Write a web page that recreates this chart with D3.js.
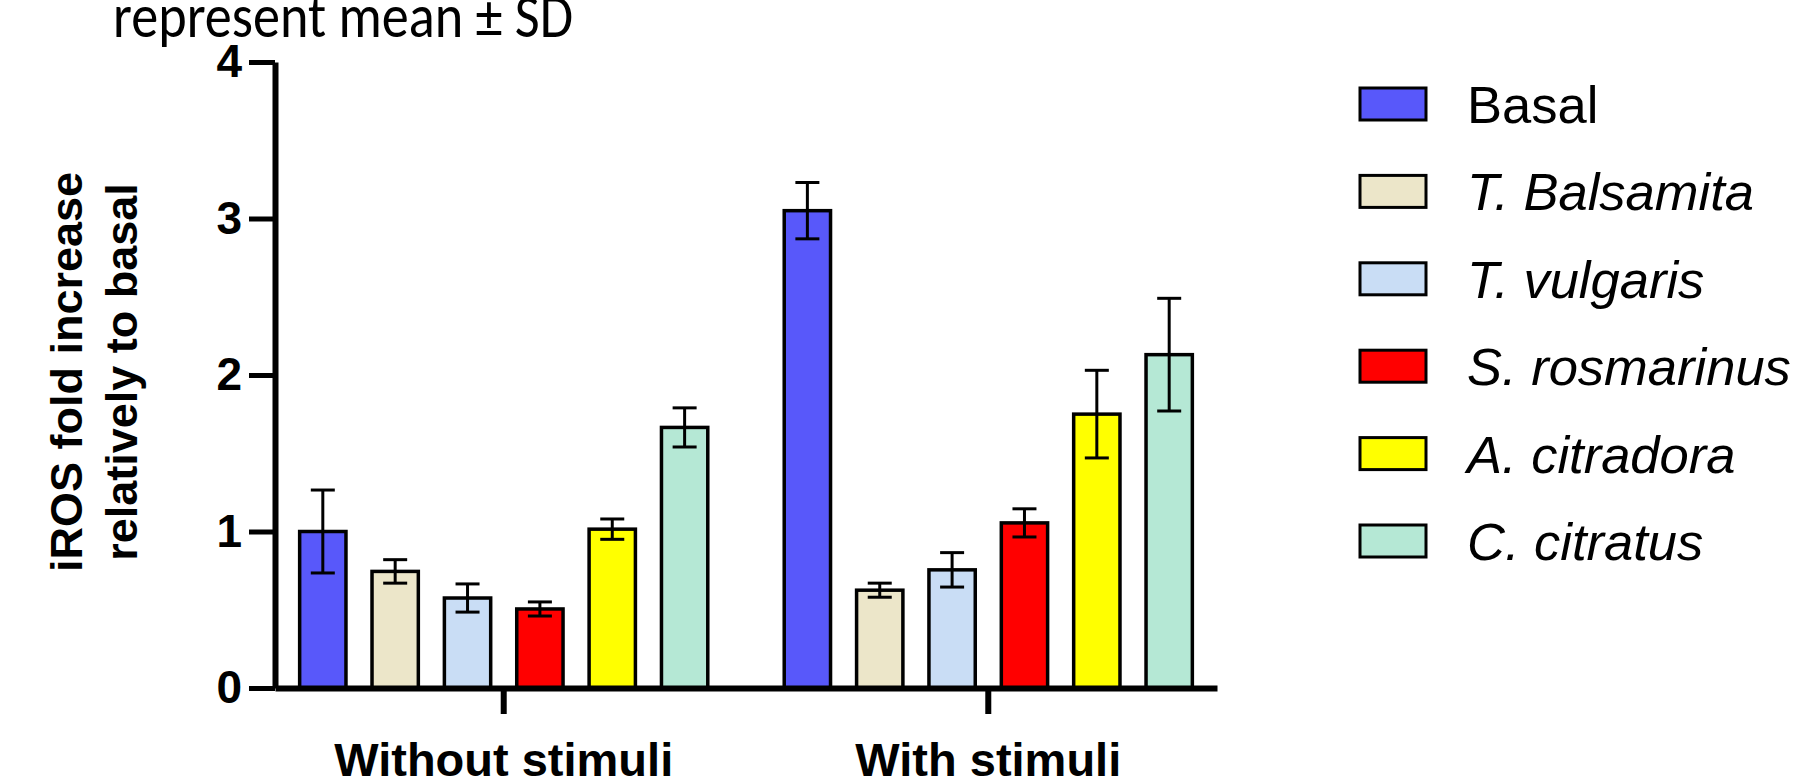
<!DOCTYPE html>
<html>
<head>
<meta charset="utf-8">
<script src="https://cdn.jsdelivr.net/npm/d3@7"></script>
<style>
  html, body { margin: 0; padding: 0; background: #fff; }
  svg { display: block; }
</style>
</head>
<body>
<svg id="chart" width="1797" height="781"></svg>
<script>
const groups = ["Without stimuli", "With stimuli"];
const series = ["Basal", "T. Balsamita", "T. vulgaris", "S. rosmarinus", "A. citradora", "C. citratus"];
const meanWithout = [1.00, 0.745, 0.575, 0.505, 1.015, 1.665];
const sdWithout   = [0.265, 0.075, 0.09, 0.045, 0.065, 0.125];
const meanWith    = [3.05, 0.625, 0.755, 1.055, 1.75, 2.13];
const sdWith      = [0.18, 0.045, 0.11, 0.09, 0.28, 0.36];
const colors = ["#5858FA", "#ECE6C9", "#C9DDF5", "#FF0000", "#FFFF00", "#B5E8D5"];
const yTicks = [0, 1, 2, 3, 4];

const data = [];
groups.forEach((g, gi) => {
  const m = gi === 0 ? meanWithout : meanWith;
  const s = gi === 0 ? sdWithout : sdWith;
  series.forEach((name, si) => data.push({group: g, series: name, mean: m[si], sd: s[si], color: colors[si]}));
});

const svg = d3.select("#chart");
const BOLD = "'Liberation Sans', Arial, Helvetica, sans-serif";

const x0 = d3.scaleBand().domain(groups).range([275, 1217]).paddingInner(0.104).paddingOuter(0.024);
const x1 = d3.scaleBand().domain(series).range([0, x0.bandwidth()]).paddingInner(0.36).paddingOuter(0.18);
const y = d3.scaleLinear().domain([0, 4]).range([688, 62]);
const color = d3.scaleOrdinal().domain(series).range(colors);

// Title fragment (cut at top)
svg.append("text")
  .attr("x", 113).attr("y", 37)
  .attr("font-family", "Carlito, Calibri, Lato, 'Open Sans', sans-serif")
  .attr("font-size", 61)
  .attr("textLength", 460).attr("lengthAdjust", "spacingAndGlyphs")
  .attr("fill", "#000")
  .text("represent mean \u00B1 SD");

// Bars
const bars = svg.append("g");
bars.selectAll("rect").data(data).join("rect")
  .attr("x", d => x0(d.group) + x1(d.series))
  .attr("y", d => y(d.mean))
  .attr("width", x1.bandwidth())
  .attr("height", d => y(0) - y(d.mean))
  .attr("fill", d => color(d.series))
  .attr("stroke", "#000")
  .attr("stroke-width", 3.5);

// Error bars
const capW = 24;
const eb = svg.append("g").attr("stroke", "#000").attr("stroke-width", 3).attr("fill", "none");
data.forEach(d => {
  const cx = x0(d.group) + x1(d.series) + x1.bandwidth() / 2;
  eb.append("line").attr("x1", cx).attr("x2", cx).attr("y1", y(d.mean + d.sd)).attr("y2", y(d.mean - d.sd));
  eb.append("line").attr("x1", cx - capW/2).attr("x2", cx + capW/2).attr("y1", y(d.mean + d.sd)).attr("y2", y(d.mean + d.sd));
  eb.append("line").attr("x1", cx - capW/2).attr("x2", cx + capW/2).attr("y1", y(d.mean - d.sd)).attr("y2", y(d.mean - d.sd));
});

// Y axis
const yAxis = svg.append("g").attr("transform", "translate(275,0)")
  .call(d3.axisLeft(y).tickValues(yTicks).tickFormat(d3.format("d")).tickSize(26).tickSizeOuter(0).tickPadding(7));
yAxis.select(".domain").attr("stroke", "#000").attr("stroke-width", 6);
yAxis.selectAll(".tick line").attr("stroke", "#000").attr("stroke-width", 5);
yAxis.selectAll(".tick text").attr("font-family", BOLD).attr("font-weight", "bold").attr("font-size", 46).attr("fill", "#000");

// X axis
const xAxis = svg.append("g").attr("transform", "translate(0,688)")
  .call(d3.axisBottom(x0).tickSize(26).tickSizeOuter(0).tickPadding(29));
xAxis.select(".domain").attr("stroke", "#000").attr("stroke-width", 6);
xAxis.selectAll(".tick line").attr("stroke", "#000").attr("stroke-width", 6);
xAxis.selectAll(".tick text").attr("font-family", BOLD).attr("font-weight", "bold").attr("font-size", 47).attr("fill", "#000");

// Y label
const yl = ["iROS fold increase", "relatively to basal"];
const ylx = [82, 137];
yl.forEach((t, i) => {
  svg.append("text")
    .attr("transform", `translate(${ylx[i]},372) rotate(-90)`)
    .attr("text-anchor", "middle")
    .attr("font-family", BOLD).attr("font-weight", "bold").attr("font-size", 45)
    .attr("fill", "#000")
    .text(t);
});

// Legend
const ly = d3.scalePoint().domain(series).range([88, 525]);
const leg = svg.append("g");
series.forEach((s, i) => {
  leg.append("rect").attr("x", 1360).attr("y", ly(s)).attr("width", 66).attr("height", 32)
    .attr("fill", color(s)).attr("stroke", "#000").attr("stroke-width", 3);
  leg.append("text").attr("x", 1467).attr("y", ly(s) + 16).attr("dy", "0.36em")
    .attr("font-family", BOLD).attr("font-size", 52.5)
    .attr("font-style", i === 0 ? "normal" : "italic")
    .attr("fill", "#000")
    .text(s);
});
</script>
</body>
</html>
